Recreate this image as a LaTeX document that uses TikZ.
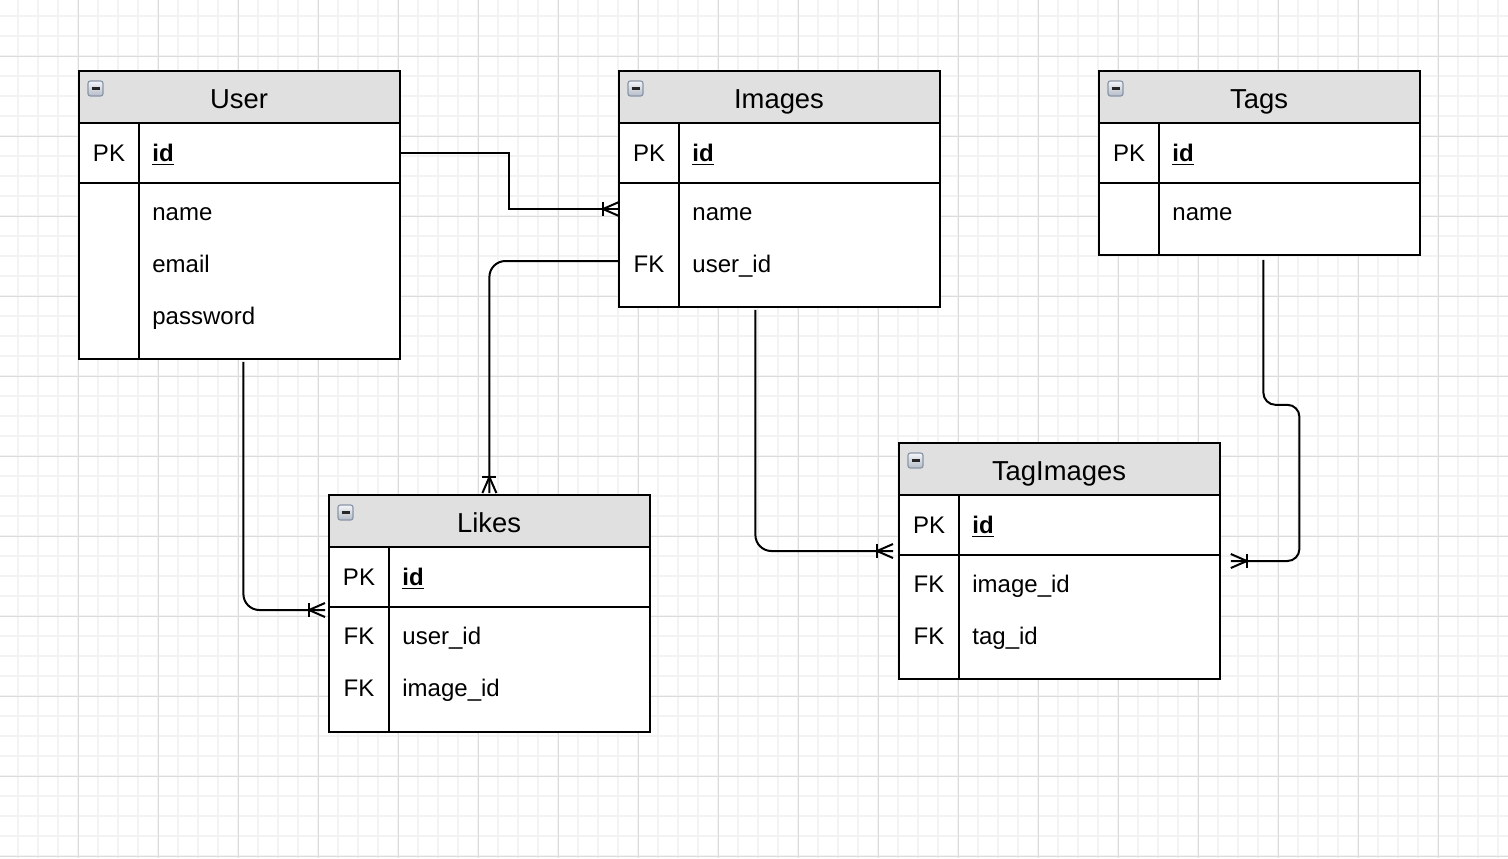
\documentclass[tikz,border=0pt]{standalone}
\usepackage{fontspec}
\setmainfont{Liberation Sans}
\usetikzlibrary{calc}
\definecolor{gridminor}{HTML}{F3F3F3}
\definecolor{gridmajor}{HTML}{DCDCDC}
\definecolor{headfill}{HTML}{E0E0E0}
\definecolor{iconedge}{HTML}{8A96A6}
\definecolor{icontop}{HTML}{F4F6F9}
\definecolor{iconbot}{HTML}{B4BCC8}
\tikzset{
  conn/.style={line width=1pt, black},
  frame/.style={line width=1pt, black},
  titletxt/.style={font=\fontsize{13.7}{16}\selectfont, inner sep=0pt, anchor=base},
  keytxt/.style={font=\fontsize{12}{14}\selectfont, inner sep=0pt, anchor=base},
  fieldtxt/.style={font=\fontsize{12}{14}\selectfont, inner sep=0pt, anchor=base west},
  crow/.pic={\draw[conn] (-16,-7) -- (-16,7); \draw[conn] (0,-7) -- (-16,0) -- (0,7);},
}
\newcommand\ertable[5]{%
  \node[fill=white, inner sep=0pt, minimum width=160pt, minimum height=#4*0.5pt, anchor=north west] (#1) at (#2,#3) {};
  \fill[headfill] (#1.north west) rectangle ($(#1.north east)+(0,52)$);
  \draw[frame] ($(#1.north west)+(0,52)$) -- ++(320,0);
  \draw[frame] ($(#1.north west)+(0,112)$) -- ++(320,0);
  \draw[frame] ($(#1.north west)+(60,52)$) -- ($(#1.south west)+(60,0)$);
  \draw[frame] (#1.north west) rectangle (#1.south east);
  \draw[iconedge, line width=0.6pt, rounded corners=1.2pt, top color=icontop, bottom color=iconbot] (#2+9,#3+10) rectangle (#2+24,#3+25);
  \draw[black!85, line width=1.4pt] (#2+12.5,#3+17.5) -- (#2+20.5,#3+17.5);
  \node[titletxt] (#1-title) at (#2+160,#3+37) {#5};
  \node[keytxt] (#1-pk) at (#2+30,#3+90) {PK};
  \node[fieldtxt] (#1-id) at (#2+73,#3+90) {\underline{\textbf{id}}};
}
\newcommand\erfield[4]{\node[fieldtxt] (#1) at (#2+73,#3) {#4};}
\newcommand\erkey[4]{\node[keytxt] (#1) at (#2+30,#3) {#4};}
\begin{document}
\begin{tikzpicture}[x=0.5pt, y=-0.5pt]
\useasboundingbox (0,0) rectangle (1508,858);
\fill[white] (0,0) rectangle (1508,858);
% grid
\foreach \k in {0,...,74} \draw[gridminor, line width=0.7pt] ({18+20*\k},0) -- ({18+20*\k},858);
\foreach \k in {0,...,42} \draw[gridminor, line width=0.7pt] (0,{16+20*\k}) -- (1508,{16+20*\k});
\foreach \k in {0,...,18} \draw[gridmajor, line width=0.5pt] ({-2+80*\k},0) -- ({-2+80*\k},858);
\foreach \k in {0,...,10} \draw[gridmajor, line width=0.5pt] (0,{56+80*\k}) -- (1508,{56+80*\k});

% tables
\ertable{user}{79}{71}{287}{User}
\erfield{user-name}{79}{220}{name}
\erfield{user-email}{79}{272}{email}
\erfield{user-password}{79}{324}{password}

\ertable{images}{619}{71}{235}{Images}
\erfield{images-name}{619}{220}{name}
\erkey{images-fk}{619}{272}{FK}
\erfield{images-userid}{619}{272}{user\_id}

\ertable{tags}{1099}{71}{183}{Tags}
\erfield{tags-name}{1099}{220}{name}

\ertable{likes}{329}{495}{236}{Likes}
\erkey{likes-fk1}{329}{644}{FK}
\erfield{likes-userid}{329}{644}{user\_id}
\erkey{likes-fk2}{329}{696}{FK}
\erfield{likes-imageid}{329}{696}{image\_id}

\ertable{tagimages}{899}{443}{235}{TagImages}
\erkey{tagimages-fk1}{899}{592}{FK}
\erfield{tagimages-imageid}{899}{592}{image\_id}
\erkey{tagimages-fk2}{899}{644}{FK}
\erfield{tagimages-tagid}{899}{644}{tag\_id}

% connector end points
\coordinate (u-pk) at ($(user.north east)+(0,82)$);
\coordinate (i-in) at ($(images.north west)+(0,138)$);
\coordinate (i-fk) at ($(images.north west)+(0,190)$);
\coordinate (l-top) at ($(likes.north)+(0,-2)$);
\coordinate (u-bot) at ($(user.south)+(4,3)$);
\coordinate (l-in) at ($(likes.north west)+(-4,115)$);
\coordinate (i-bot) at ($(images.south)+(-24,3)$);
\coordinate (t-in) at ($(tagimages.north west)+(-6,108)$);
\coordinate (tg-bot) at ($(tags.south)+(4,5)$);
\coordinate (ti-in) at ($(tagimages.north east)+(11,118)$);

% connectors
\draw[conn] (u-pk) -| ($(u-pk)!.5!(i-in)$) |- (i-in);
\draw[conn, rounded corners=8pt] (i-fk) -| (l-top);
\draw[conn, rounded corners=8pt] (u-bot) |- (l-in);
\draw[conn, rounded corners=8pt] (i-bot) |- (t-in);
\draw[conn, rounded corners=6pt] (tg-bot) -- ++(0,145) -- ++(36,0) |- (ti-in);

\pic at (i-in) {crow};
\pic[rotate=-90] at (l-top) {crow};
\pic at (l-in) {crow};
\pic at (t-in) {crow};
\pic[rotate=180] at (ti-in) {crow};
\end{tikzpicture}
\end{document}
